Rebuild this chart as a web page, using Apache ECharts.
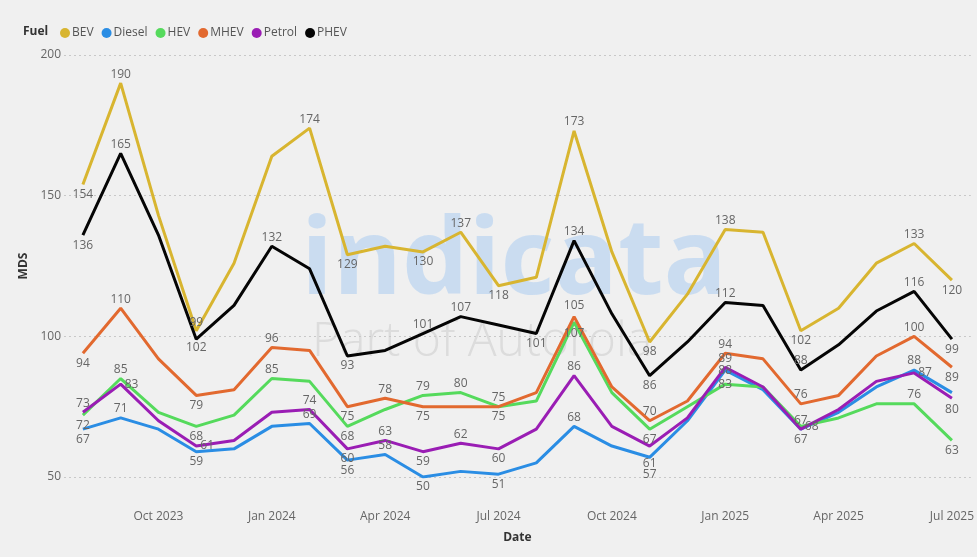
<!DOCTYPE html>
<html><head><meta charset="utf-8">
<script src="https://cdn.jsdelivr.net/npm/echarts@6/dist/echarts.min.js"></script>
<style>html,body{margin:0;padding:0;background:#f0f0f0}#c{width:977px;height:557px}</style>
</head><body><div id="c"></div>
<script>
// ---- data ----
const categories = ['Aug 2023','Sep 2023','Oct 2023','Nov 2023','Dec 2023','Jan 2024','Feb 2024','Mar 2024','Apr 2024','May 2024','Jun 2024','Jul 2024',
  'Aug 2024','Sep 2024','Oct 2024','Nov 2024','Dec 2024','Jan 2025','Feb 2025','Mar 2025','Apr 2025','May 2025','Jun 2025','Jul 2025'];
const yTicks = [50, 100, 150, 200];
const bev    = [154,190,143,102,126,164,174,129,132,130,137,118,121,173,130,98,115,138,137,102,110,126,133,120];
const diesel = [67,71,67,59,60,68,69,56,58,50,52,51,55,68,61,57,70,88,81,67,73,82,88,80];
const hev    = [72,85,73,68,72,85,84,68,74,79,80,75,77,105,80,67,75,83,82,68,71,76,76,63];
const mhev   = [94,110,92,79,81,96,95,75,78,75,75,75,80,107,82,70,77,94,92,76,79,93,100,89];
const petrol = [73,83,70,61,63,73,74,60,63,59,62,60,67,86,68,61,71,89,82,67,74,84,87,78];
const phev   = [136,165,136,99,111,132,124,93,95,101,107,104,101,134,108,86,98,112,111,88,97,109,116,99];

// ---- styling (label placement per point: t top, b bottom, T/B far, r right, c centre, - none) ----
const labelPlace = {
  BEV:    'b t - B - - t b - b t b - t - b - t - b - - t b',
  Diesel: 'b t - b - - t b t b - b - t - B - c - b - - t B',
  HEV:    'b t - b - t - b - t t b - T - b - c - r - - t b',
  MHEV:   'b t - b - t - b t b - t - B - t - t - t - - t b',
  Petrol: 't r - r - - t b t b t b - t - B - t - t - - r -',
  PHEV:   'b t - T - t - b - t t - b t - b - t - t - - t b'
};
const colors = {BEV:'#D8B530', Diesel:'#2A8DE4', HEV:'#55DA5C', MHEV:'#E2692F', Petrol:'#9A1DB4', PHEV:'#050505'};
const seriesData = {BEV:bev, Diesel:diesel, HEV:hev, MHEV:mhev, Petrol:petrol, PHEV:phev};
const FONT = 'Open Sans';

function buildData(name) {
  const codes = labelPlace[name].split(' ');
  return seriesData[name].map((v, i) => {
    const c = codes[i];
    if (!c || c === '-') return {value: v};
    const map = {t:['top',3], b:['bottom',4], T:['top',11], B:['bottom',11], r:['right',4], c:['inside',0]};
    const [pos, dist] = map[c];
    return {value: v, label: {show: true, position: pos, distance: dist}};
  });
}

const names = ['BEV','Diesel','HEV','MHEV','Petrol','PHEV'];
const chart = echarts.init(document.getElementById('c'));
chart.setOption({
  backgroundColor: '#f0f0f0',
  animation: false,
  title: {text: 'Fuel', left: 18, top: 21, textStyle: {fontFamily: FONT, fontSize: 12, fontWeight: 'bold', color: '#333'}},
  legend: {
    data: names, left: 55, top: 22, icon: 'circle', itemWidth: 10, itemHeight: 10, itemGap: 8,
    textStyle: {fontFamily: FONT, fontSize: 12, color: '#555', padding: [0,0,0,-3]}
  },
  grid: {left: 64, right: 6, top: 55, bottom: 80},
  xAxis: {
    type: 'category', data: categories, boundaryGap: true,
    name: 'Date', nameLocation: 'middle', nameGap: 55,
    nameTextStyle: {fontFamily: FONT, fontSize: 12, fontWeight: 'bold', color: '#333'},
    axisLine: {show: false}, axisTick: {show: false},
    axisLabel: {interval: (i) => i % 3 === 2, margin: 34, fontFamily: FONT, fontSize: 12, color: '#666'}
  },
  yAxis: {
    type: 'value', min: yTicks[0], max: yTicks[yTicks.length-1], interval: 50,
    name: 'MDS', nameLocation: 'middle', nameGap: 12,
    nameTextStyle: {fontFamily: FONT, fontSize: 12, fontWeight: 'bold', color: '#333'},
    axisLine: {show: false}, axisTick: {show: false},
    axisLabel: {margin: 3, fontFamily: FONT, fontSize: 12, color: '#666'},
    splitLine: {lineStyle: {type: [2, 3], color: '#c8c8c8', width: 1}}
  },
  graphic: [
    {type: 'text', left: 301, top: 212, z: 0, silent: true,
     style: {text: 'indicata', font: 'bold 105px "Open Sans"', fill: 'rgba(190,214,240,0.75)'}},
    {type: 'text', left: 312, top: 318, z: 0, silent: true,
     style: {text: 'Part of Autorola', font: '300 48px "Open Sans"', fill: 'rgba(200,200,200,0.5)'}}
  ],
  series: names.map(n => ({
    name: n, type: 'line', data: buildData(n), showSymbol: true, symbol: 'circle', symbolSize: 0.1,
    color: colors[n], lineStyle: {width: 3, color: colors[n]},
    label: {show: false, fontFamily: FONT, fontSize: 12, color: '#666'},
    labelLayout: {hideOverlap: false}, z: 3
  }))
});
</script></body></html>
